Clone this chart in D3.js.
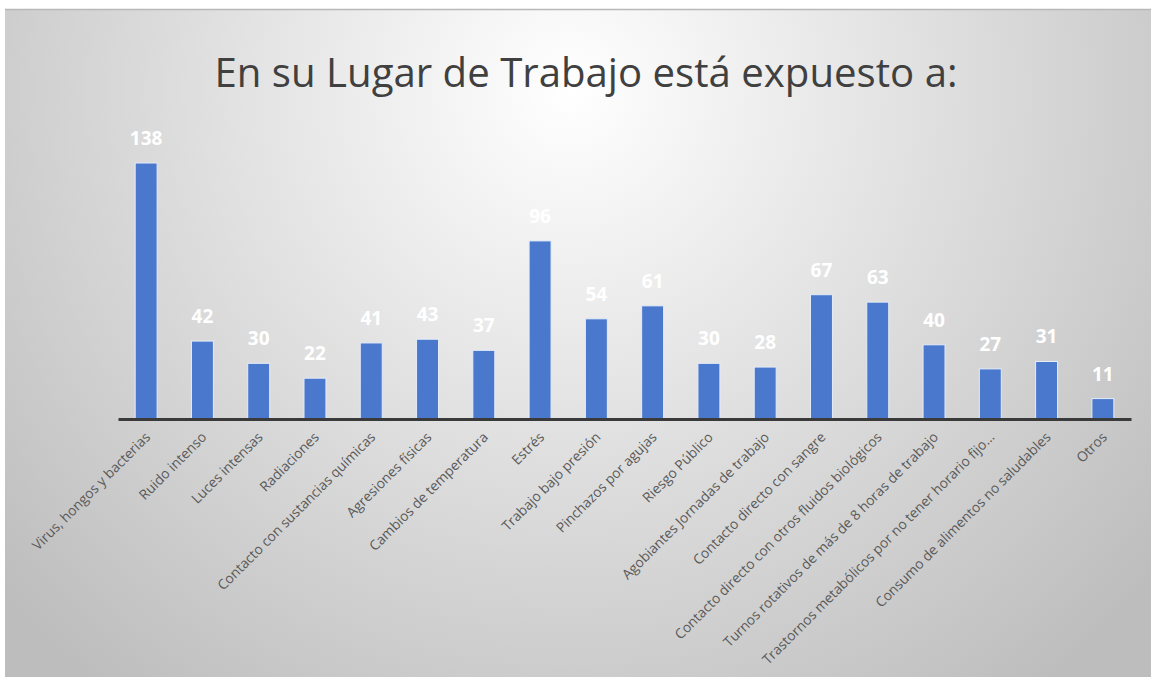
<!DOCTYPE html>
<html>
<head>
<meta charset="utf-8">
<script src="https://cdn.jsdelivr.net/npm/d3@7"></script>
<style>
  html, body { margin: 0; padding: 0; background: #fff; }
  svg { display: block; }
</style>
</head>
<body>
<div id="chart"></div>
<script>
// data
var categories = [
  "Virus, hongos y bacterias",
  "Ruido intenso",
  "Luces intensas",
  "Radiaciones",
  "Contacto con sustancias químicas",
  "Agresiones físicas",
  "Cambios de temperatura",
  "Estrés",
  "Trabajo bajo presión",
  "Pinchazos por agujas",
  "Riesgo Público",
  "Agobiantes Jornadas de trabajo",
  "Contacto directo con sangre",
  "Contacto directo con otros fluidos biológicos",
  "Turnos rotativos de más de 8 horas de trabajo",
  "Trastornos metabólicos por no tener horario fijo…",
  "Consumo de alimentos no saludables",
  "Otros"
];
var values = [138, 42, 30, 22, 41, 43, 37, 96, 54, 61, 30, 28, 67, 63, 40, 27, 31, 11];
var title = "En su Lugar de Trabajo está expuesto a:";

var W = 1151, H = 677;
var margin = {left: 118, right: 20, top: 163, bottom: 258};
var baseY = H - margin.bottom;   // axis line

var svg = d3.select("#chart").append("svg")
    .attr("width", W)
    .attr("height", H);

// background with radial gradient
var defs = svg.append("defs");
var grad = defs.append("radialGradient")
    .attr("id", "bg")
    .attr("gradientUnits", "userSpaceOnUse")
    .attr("cx", 570).attr("cy", 90).attr("r", 760);
grad.append("stop").attr("offset", "0%").attr("stop-color", "#ffffff");
grad.append("stop").attr("offset", "100%").attr("stop-color", "#bdbdbd");

svg.append("rect")
    .attr("x", 5).attr("y", 9)
    .attr("width", W - 5).attr("height", H - 9)
    .attr("fill", "url(#bg)");
svg.append("line")
    .attr("x1", 5).attr("x2", W)
    .attr("y1", 9.5).attr("y2", 9.5)
    .attr("stroke", "#b8b8b8").attr("stroke-width", 1.5);

svg.append("text")
    .attr("x", 586).attr("y", 87)
    .attr("text-anchor", "middle")
    .attr("textLength", 743)
    .attr("lengthAdjust", "spacingAndGlyphs")
    .style("font-family", "'Open Sans', 'Noto Sans', sans-serif")
    .style("font-size", "40px")
    .attr("fill", "#404040")
    .text(title);

var x = d3.scaleBand()
    .domain(categories)
    .range([margin.left, W - margin.right])
    .paddingInner(0.61)
    .paddingOuter(0.305);

var y = d3.scaleLinear()
    .domain([0, 138])
    .range([baseY, margin.top]);

svg.selectAll(".bar")
    .data(values)
    .enter().append("rect")
    .attr("class", "bar")
    .attr("x", function(d, i) { return x(categories[i]); })
    .attr("width", x.bandwidth())
    .attr("y", function(d) { return y(d); })
    .attr("height", function(d) { return baseY - y(d); })
    .attr("fill", "#4a78cc")
    .attr("stroke", "#e4ecf8")
    .attr("stroke-width", 1);

svg.selectAll(".val")
    .data(values)
    .enter().append("text")
    .attr("class", "val")
    .attr("x", function(d, i) { return x(categories[i]) + x.bandwidth() / 2; })
    .attr("y", function(d) { return y(d) - 18; })
    .attr("text-anchor", "middle")
    .style("font-family", "'Open Sans', 'Noto Sans', sans-serif")
    .style("font-size", "19px")
    .style("font-weight", "bold")
    .attr("fill", "#ffffff")
    .text(function(d) { return d; });

// axis
var xAxis = d3.axisBottom(x).tickSize(0).tickPadding(0);
var gx = svg.append("g")
    .attr("transform", "translate(0," + baseY + ")")
    .call(xAxis);
gx.select(".domain")
    .attr("stroke", "#3a3a3a")
    .attr("stroke-width", 3);
gx.selectAll(".tick text")
    .attr("text-anchor", "end")
    .attr("dy", null)
    .attr("transform", "translate(5,19) rotate(-45)")
    .style("font-family", "'Open Sans', 'Noto Sans', sans-serif")
    .style("font-size", "13.8px")
    .attr("fill", "#595959");
</script>
</body>
</html>
